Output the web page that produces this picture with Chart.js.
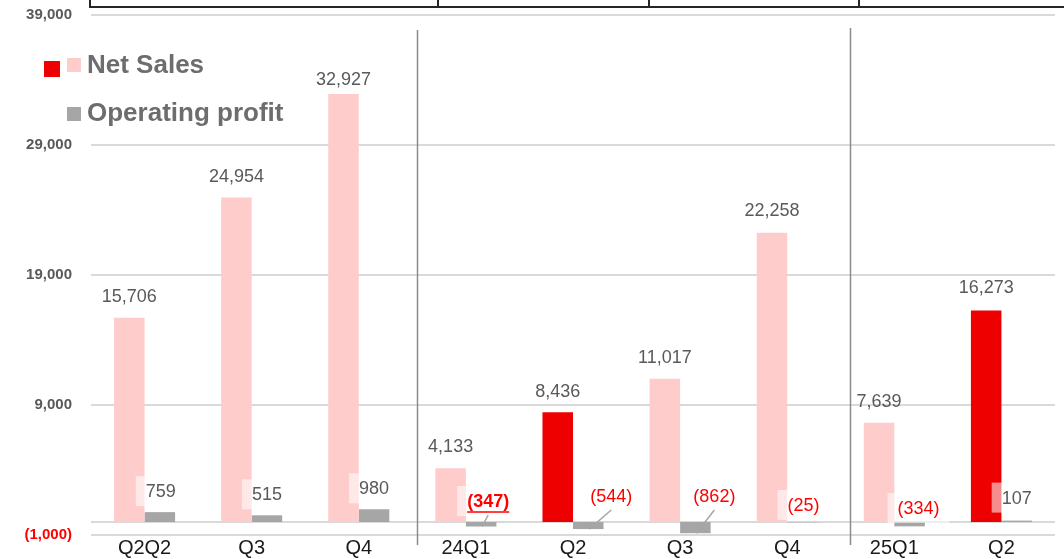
<!DOCTYPE html>
<html>
<head>
<meta charset="utf-8">
<script src="https://cdn.jsdelivr.net/npm/chart.js@4"></script>
<style>
  html, body { margin: 0; padding: 0; background: #ffffff; }
  #wrap { width: 1064px; height: 559px; position: relative; }
</style>
</head>
<body>
<div id="wrap"><canvas id="c" width="1064" height="559"></canvas></div>
<script>
// ---- data ----
const categories = ["Q2Q2", "Q3", "Q4", "24Q1", "Q2", "Q3", "Q4", "25Q1", "Q2"];
const netSales = [15706, 24954, 32927, 4133, 8436, 11017, 22258, 7639, 16273];
const operatingProfit = [759, 515, 980, -347, -544, -862, -25, -334, 107];
const yTicks = [-1000, 9000, 19000, 29000, 39000];
const seriesNames = ["Net Sales", "Operating profit"];

// ---- styles ----
const highlighted = [false, false, false, false, true, false, false, false, true];
const PINK = "#FFCCCC", RED = "#EE0000", GRAY = "#A6A6A6";
// label offsets (px) from bar end
const nsLabelDy = [-21, -21, -14, -21, -20, -21, -22, -21, -22];
const opLabelOffset = [[1,-20],[0,-20],[0,-20],[7,-20],[23,-25],[19,-25],[1,-16],[9,-13],[0,-22]];
const opLeader = [false, false, false, true, true, true, false, false, false];
const opBold = [false, false, false, true, false, false, false, false, false];

function fmt(v) {
  const s = Math.abs(v).toLocaleString("en-US");
  return v < 0 ? "(" + s + ")" : s;
}

const decorPlugin = {
  id: "decor",
  beforeDraw(chart) {
    const ctx = chart.ctx;
    ctx.save();
    ctx.strokeStyle = "#262626";
    ctx.lineWidth = 2;
    ctx.beginPath();
    ctx.moveTo(90, 7); ctx.lineTo(1064, 7);
    [90, 438, 649, 859].forEach(x => { ctx.moveTo(x, 0); ctx.lineTo(x, 8); });
    ctx.stroke();
    ctx.restore();
  },
  beforeDatasetsDraw(chart) {
    const ctx = chart.ctx, y = chart.scales.y, x = chart.scales.x;
    ctx.save();
    ctx.strokeStyle = "#D9D9D9";
    ctx.lineWidth = 2;
    const y0 = y.getPixelForValue(0);
    ctx.beginPath();
    ctx.moveTo(chart.chartArea.left, y0); ctx.lineTo(chart.chartArea.right, y0);
    ctx.stroke();
    ctx.strokeStyle = "#8C8C8C";
    ctx.lineWidth = 1.5;
    [[2.54, 30], [6.59, 28]].forEach(([v, top]) => {
      const px = Math.round(x.getPixelForValue(v)) + 0.5;
      ctx.beginPath();
      ctx.moveTo(px, top); ctx.lineTo(px, 545);
      ctx.stroke();
    });
    ctx.restore();
  },
  afterDatasetsDraw(chart) {
    const ctx = chart.ctx, ys = chart.scales.y;
    const m0 = chart.getDatasetMeta(0), m1 = chart.getDatasetMeta(1);
    const y0 = ys.getPixelForValue(0);
    ctx.save();
    ctx.textAlign = "center";
    ctx.textBaseline = "middle";
    ctx.font = "18px 'Liberation Sans', Arial, sans-serif";
    ctx.fillStyle = "#595959";
    m0.data.forEach((bar, i) => {
      ctx.fillText(fmt(netSales[i]), bar.x, bar.y + nsLabelDy[i]);
    });
    m1.data.forEach((bar, i) => {
      const v = operatingProfit[i];
      const base = v >= 0 ? bar.y : y0;
      const cx = bar.x + opLabelOffset[i][0];
      const cy = base + opLabelOffset[i][1];
      const txt = fmt(v);
      ctx.font = (opBold[i] ? "bold " : "") + "18px 'Liberation Sans', Arial, sans-serif";
      const w = ctx.measureText(txt).width;
      ctx.fillStyle = "rgba(255,255,255,0.55)";
      ctx.fillRect(cx - w / 2 - 10, cy - 16, w + 20, 30);
      if (opLeader[i]) {
        ctx.strokeStyle = "#A6A6A6";
        ctx.lineWidth = 1.5;
        ctx.beginPath();
        ctx.moveTo(cx, cy + 13);
        ctx.lineTo(bar.x + 1, bar.y);
        ctx.stroke();
      }
      ctx.fillStyle = v < 0 ? "#FF0000" : "#595959";
      ctx.fillText(txt, cx, cy);
      if (opBold[i]) {
        ctx.strokeStyle = "#FF0000";
        ctx.lineWidth = 1.5;
        ctx.beginPath();
        ctx.moveTo(cx - w / 2, cy + 10); ctx.lineTo(cx + w / 2, cy + 10);
        ctx.stroke();
      }
    });
    ctx.fillStyle = RED; ctx.fillRect(44, 61, 16, 16);
    ctx.fillStyle = PINK; ctx.fillRect(67, 58, 14, 14);
    ctx.fillStyle = GRAY; ctx.fillRect(67, 107, 14, 14);
    ctx.textAlign = "left";
    ctx.fillStyle = "#6D6D6D";
    ctx.font = "bold 26px 'Liberation Sans', Arial, sans-serif";
    ctx.fillText(seriesNames[0], 87, 66);
    ctx.fillText(seriesNames[1], 87, 114);
    ctx.restore();
  }
};

new Chart(document.getElementById("c"), {
  type: "bar",
  data: {
    labels: categories,
    datasets: [
      { label: seriesNames[0], data: netSales,
        backgroundColor: highlighted.map(h => h ? RED : PINK) },
      { label: seriesNames[1], data: operatingProfit, backgroundColor: GRAY }
    ]
  },
  options: {
    responsive: false,
    animation: false,
    devicePixelRatio: 1,
    layout: { padding: { top: 15, right: 9, left: 0, bottom: 0 } },
    datasets: { bar: { categoryPercentage: 0.57, barPercentage: 1.0 } },
    plugins: { legend: { display: false }, tooltip: { enabled: false } },
    scales: {
      x: {
        grid: { display: false, drawTicks: false },
        border: { display: false },
        ticks: { color: "#1A1A1A", padding: 1, maxRotation: 0, autoSkip: false,
          font: { family: "'Liberation Sans', Arial, sans-serif", size: 20 } },
        afterFit(s) { s.height = 24; }
      },
      y: {
        min: yTicks[0], max: yTicks[yTicks.length - 1],
        afterBuildTicks(s) { s.ticks = yTicks.map(v => ({ value: v })); },
        grid: { color: "#D9D9D9", lineWidth: 2, drawTicks: true, tickLength: 19, tickColor: "rgba(0,0,0,0)" },
        border: { display: false },
        ticks: {
          padding: 0,
          color: c => (c.tick && c.tick.value < 0) ? "#FF0000" : "#595959",
          font: { family: "'Liberation Sans', Arial, sans-serif", size: 15, weight: "bold" },
          callback: v => fmt(v)
        },
        afterFit(s) { s.width = 91; }
      }
    }
  },
  plugins: [decorPlugin]
});
</script>
</body>
</html>
